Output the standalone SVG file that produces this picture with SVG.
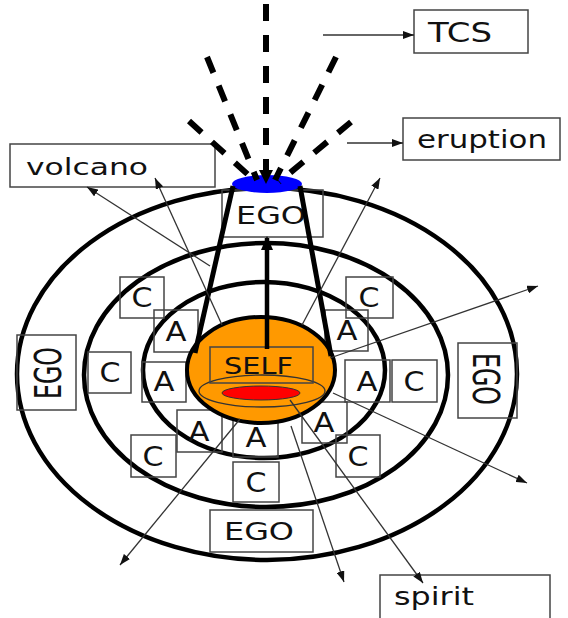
<svg xmlns="http://www.w3.org/2000/svg" width="568" height="618" viewBox="0 0 568 618">
<style>
text{font-family:"DejaVu Sans","Liberation Sans",sans-serif;fill:#111}
.ring{fill:none;stroke:#000;stroke-width:4.5}
.box{fill:none;stroke:#444;stroke-width:1.5}
.ca{font-size:26px;text-anchor:middle}
.lab{font-size:24px}
.thin{stroke:#333;stroke-width:1.3;fill:none;marker-end:url(#ah)}
.dash{stroke:#000;stroke-width:6;stroke-dasharray:17 14;fill:none}
.side{stroke:#000;stroke-width:5;fill:none}
</style>
<defs>
<marker id="ah" markerWidth="11" markerHeight="8" refX="11" refY="4" orient="auto" markerUnits="userSpaceOnUse"><path d="M0,0 L11,4 L0,8 z" fill="#111"/></marker>
<marker id="ahb" markerWidth="14" markerHeight="12" refX="12" refY="6" orient="auto" markerUnits="userSpaceOnUse"><path d="M0,0 L14,6 L0,12 z" fill="#000"/></marker>
</defs>
<g id="rings">
<ellipse class="ring" cx="267" cy="374" rx="250" ry="186"/>
<ellipse class="ring" cx="266" cy="375" rx="182" ry="132"/>
<ellipse class="ring" cx="264" cy="370" rx="121" ry="88"/>
</g>
<g id="ego-top"><rect class="box" x="222" y="190" width="101" height="47"/><text x="236" y="224" font-size="25" textLength="70" lengthAdjust="spacingAndGlyphs">EGO</text></g>
<g id="ego-bottom"><rect class="box" x="210" y="510" width="103" height="42"/><text x="224" y="540" font-size="25" textLength="70" lengthAdjust="spacingAndGlyphs">EGO</text></g>
<g id="ego-left"><rect class="box" x="17" y="335" width="59" height="75"/><text transform="translate(47.5,373) rotate(-90)" x="0" y="13.5" font-size="37" text-anchor="middle" textLength="52" lengthAdjust="spacingAndGlyphs">EGO</text></g>
<g id="ego-right"><rect class="box" x="458" y="343" width="59" height="75"/><text transform="translate(486,379) rotate(90)" x="0" y="13.5" font-size="37" text-anchor="middle" textLength="52" lengthAdjust="spacingAndGlyphs">EGO</text></g>
<g id="c1"><rect class="box" x="120" y="277" width="44" height="41"/><text class="ca" x="142" y="307" textLength="21" lengthAdjust="spacingAndGlyphs">C</text></g>
<g id="c2"><rect class="box" x="88" y="352" width="43" height="41"/><text class="ca" x="110" y="382" textLength="21" lengthAdjust="spacingAndGlyphs">C</text></g>
<g id="c3"><rect class="box" x="131" y="435" width="45" height="42"/><text class="ca" x="153" y="466" textLength="21" lengthAdjust="spacingAndGlyphs">C</text></g>
<g id="c4"><rect class="box" x="233" y="462" width="46" height="40"/><text class="ca" x="256" y="492" textLength="21" lengthAdjust="spacingAndGlyphs">C</text></g>
<g id="c5"><rect class="box" x="336" y="435" width="44" height="42"/><text class="ca" x="358" y="466" textLength="21" lengthAdjust="spacingAndGlyphs">C</text></g>
<g id="c6"><rect class="box" x="392" y="360" width="45" height="42"/><text class="ca" x="414" y="391" textLength="21" lengthAdjust="spacingAndGlyphs">C</text></g>
<g id="c7"><rect class="box" x="346" y="277" width="47" height="41"/><text class="ca" x="369" y="307" textLength="21" lengthAdjust="spacingAndGlyphs">C</text></g>
<g id="a1"><rect class="box" x="154" y="310" width="44" height="42"/><text class="ca" x="176" y="341" textLength="21" lengthAdjust="spacingAndGlyphs">A</text></g>
<g id="a2"><rect class="box" x="142" y="362" width="44" height="40"/><text class="ca" x="164" y="391" textLength="21" lengthAdjust="spacingAndGlyphs">A</text></g>
<g id="a3"><rect class="box" x="177" y="410" width="45" height="42"/><text class="ca" x="199" y="441" textLength="21" lengthAdjust="spacingAndGlyphs">A</text></g>
<g id="a4"><rect class="box" x="233" y="418" width="45" height="39"/><text class="ca" x="256" y="447" textLength="21" lengthAdjust="spacingAndGlyphs">A</text></g>
<g id="a5"><rect class="box" x="302" y="402" width="45" height="41"/><text class="ca" x="324" y="432" textLength="21" lengthAdjust="spacingAndGlyphs">A</text></g>
<g id="a6"><rect class="box" x="345" y="360" width="45" height="42"/><text class="ca" x="367" y="391" textLength="21" lengthAdjust="spacingAndGlyphs">A</text></g>
<g id="a7"><rect class="box" x="325" y="310" width="43" height="41"/><text class="ca" x="347" y="340" textLength="21" lengthAdjust="spacingAndGlyphs">A</text></g>
<g id="self">
<ellipse cx="261" cy="370" rx="74" ry="53" fill="#FF9900" stroke="#000" stroke-width="4"/>
<ellipse cx="262" cy="391" rx="63" ry="16" fill="none" stroke="#333" stroke-width="1.3"/>
<ellipse cx="261" cy="393" rx="39" ry="7" fill="#FF0000" stroke="#333" stroke-width="1"/>
<rect class="box" x="210" y="347" width="103" height="36"/>
<text x="224" y="374" font-size="23" textLength="69" lengthAdjust="spacingAndGlyphs">SELF</text>
</g>
<g id="volcano-cone">
<ellipse cx="267" cy="184" rx="35" ry="9" fill="#0000FF"/>
<line class="side" x1="233" y1="186" x2="195" y2="353"/>
<line class="side" x1="300" y1="186" x2="331" y2="356"/>
</g>
<g id="label-tcs"><rect class="box" x="414" y="10" width="114" height="43"/><text x="428" y="42" font-size="26" textLength="64" lengthAdjust="spacingAndGlyphs">TCS</text></g>
<g id="label-eruption"><rect class="box" x="403" y="118" width="157" height="42"/><text x="417" y="148" font-size="24" textLength="130" lengthAdjust="spacingAndGlyphs">eruption</text></g>
<g id="label-volcano"><rect class="box" x="10" y="144" width="205" height="43"/><text x="26" y="175" font-size="23" textLength="122" lengthAdjust="spacingAndGlyphs">volcano</text></g>
<g id="label-spirit"><rect class="box" x="380" y="575" width="170" height="50"/><text x="394" y="605" font-size="24" textLength="80" lengthAdjust="spacingAndGlyphs">spirit</text></g>
<g id="connectors">
<line class="dash" x1="266" y1="4" x2="266" y2="172"/>
<path d="M259,170 L266,184 L273,170 z" fill="#000"/>
<line class="dash" x1="207" y1="57" x2="257" y2="180"/>
<line class="dash" x1="336" y1="57" x2="275" y2="180"/>
<line class="dash" x1="189" y1="121" x2="255" y2="181"/>
<line class="dash" x1="351" y1="122" x2="279" y2="182"/>
<line x1="267" y1="349" x2="267" y2="238" stroke="#000" stroke-width="4.5" marker-end="url(#ahb)"/>
<line class="thin" x1="323" y1="35" x2="414" y2="35"/>
<line class="thin" x1="347" y1="143" x2="403" y2="143"/>
<line class="thin" x1="210" y1="266" x2="87" y2="187"/>
<line class="thin" x1="222" y1="325" x2="155" y2="178"/>
<line class="thin" x1="302" y1="325" x2="380" y2="178"/>
<line class="thin" x1="330" y1="358" x2="538" y2="286"/>
<line class="thin" x1="333" y1="393" x2="527" y2="483"/>
<line class="thin" x1="240" y1="419" x2="120" y2="565"/>
<line class="thin" x1="291" y1="426" x2="344" y2="582"/>
<line class="thin" x1="290" y1="400" x2="423" y2="583"/>
</g>
</svg>
